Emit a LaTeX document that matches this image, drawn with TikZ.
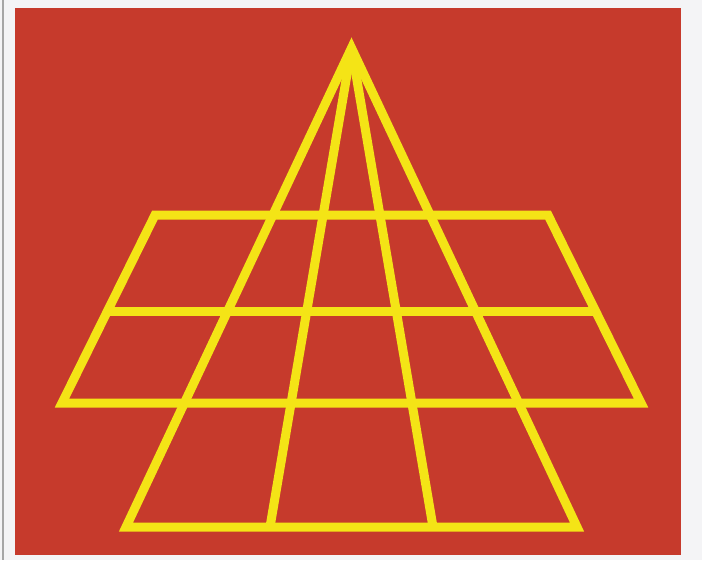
\documentclass[tikz,border=0pt]{standalone}
\begin{document}
\begin{tikzpicture}[x=1pt,y=-1pt]
\definecolor{paper}{RGB}{244,244,246}
\definecolor{bgred}{RGB}{198,58,44}
\definecolor{gold}{RGB}{244,228,22}
\tikzset{gridline/.style={draw=gold,line width=9pt,line join=miter,miter limit=10}}
\useasboundingbox (0,0) rectangle (702,560);
\fill[paper] (0,0) rectangle (702,560);
\draw[black!35,line width=1.5pt] (3,0) -- (3,560);
\fill[bgred] (15,8) rectangle (681,555);
% key points
\coordinate (apex) at (351.5,48);
\coordinate (bl) at (126,527);
\coordinate (br) at (577,527);
\coordinate (il) at (270,527);
\coordinate (ir) at (433,527);
\coordinate (tl) at (155,215);
\coordinate (tr) at (548,215);
\coordinate (ll) at (62,403);
\coordinate (lr) at (641,403);
\coordinate (ml) at (108,311);
\coordinate (mr) at (595,311);
% trapezoid grid
\draw[gridline] (tl) -- (tr) -- (lr) -- (ll) -- cycle;
\draw[gridline] (ml) -- (mr);
% pyramid
\draw[gridline] (apex) -- (bl) -- (br) -- cycle;
\draw[gridline] (apex) -- (il);
\draw[gridline] (apex) -- (ir);
\end{tikzpicture}
\end{document}
